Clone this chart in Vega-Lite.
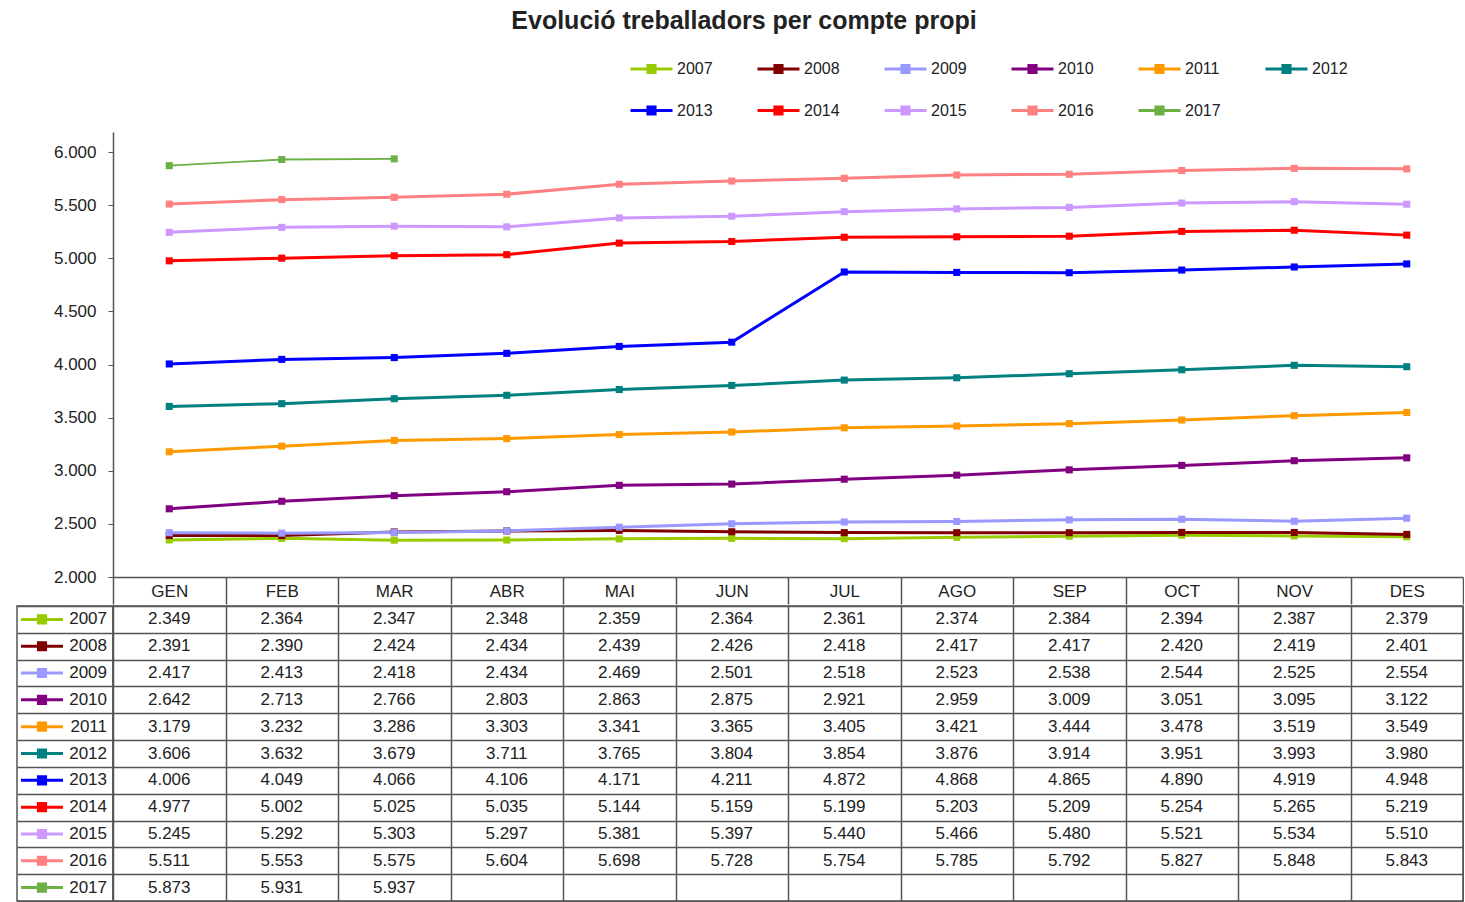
{
  "$schema": "https://vega.github.io/schema/vega-lite/v6.json",
  "background": "white",
  "padding": {"left": 14, "top": 9, "right": 0, "bottom": 0},
  "title": {"text": "Evolució treballadors per compte propi", "fontSize": 25, "font": "Liberation Sans", "fontWeight": "bold", "color": "#222", "anchor": "middle", "offset": 12, "dx": 5},
  "config": {
    "locale": {"number": {"decimal": ",", "thousands": ".", "grouping": [3], "currency": ["", " €"]}},
    "view": {"stroke": null},
    "font": "Liberation Sans",
    "axis": {"labelFont": "Liberation Sans", "labelFontSize": 17, "labelColor": "#222"}
  },
  "data": {"values": [
    {"year":"2007","month":"GEN","value":2349},{"year":"2007","month":"FEB","value":2364},{"year":"2007","month":"MAR","value":2347},{"year":"2007","month":"ABR","value":2348},{"year":"2007","month":"MAI","value":2359},{"year":"2007","month":"JUN","value":2364},{"year":"2007","month":"JUL","value":2361},{"year":"2007","month":"AGO","value":2374},{"year":"2007","month":"SEP","value":2384},{"year":"2007","month":"OCT","value":2394},{"year":"2007","month":"NOV","value":2387},{"year":"2007","month":"DES","value":2379},
    {"year":"2008","month":"GEN","value":2391},{"year":"2008","month":"FEB","value":2390},{"year":"2008","month":"MAR","value":2424},{"year":"2008","month":"ABR","value":2434},{"year":"2008","month":"MAI","value":2439},{"year":"2008","month":"JUN","value":2426},{"year":"2008","month":"JUL","value":2418},{"year":"2008","month":"AGO","value":2417},{"year":"2008","month":"SEP","value":2417},{"year":"2008","month":"OCT","value":2420},{"year":"2008","month":"NOV","value":2419},{"year":"2008","month":"DES","value":2401},
    {"year":"2009","month":"GEN","value":2417},{"year":"2009","month":"FEB","value":2413},{"year":"2009","month":"MAR","value":2418},{"year":"2009","month":"ABR","value":2434},{"year":"2009","month":"MAI","value":2469},{"year":"2009","month":"JUN","value":2501},{"year":"2009","month":"JUL","value":2518},{"year":"2009","month":"AGO","value":2523},{"year":"2009","month":"SEP","value":2538},{"year":"2009","month":"OCT","value":2544},{"year":"2009","month":"NOV","value":2525},{"year":"2009","month":"DES","value":2554},
    {"year":"2010","month":"GEN","value":2642},{"year":"2010","month":"FEB","value":2713},{"year":"2010","month":"MAR","value":2766},{"year":"2010","month":"ABR","value":2803},{"year":"2010","month":"MAI","value":2863},{"year":"2010","month":"JUN","value":2875},{"year":"2010","month":"JUL","value":2921},{"year":"2010","month":"AGO","value":2959},{"year":"2010","month":"SEP","value":3009},{"year":"2010","month":"OCT","value":3051},{"year":"2010","month":"NOV","value":3095},{"year":"2010","month":"DES","value":3122},
    {"year":"2011","month":"GEN","value":3179},{"year":"2011","month":"FEB","value":3232},{"year":"2011","month":"MAR","value":3286},{"year":"2011","month":"ABR","value":3303},{"year":"2011","month":"MAI","value":3341},{"year":"2011","month":"JUN","value":3365},{"year":"2011","month":"JUL","value":3405},{"year":"2011","month":"AGO","value":3421},{"year":"2011","month":"SEP","value":3444},{"year":"2011","month":"OCT","value":3478},{"year":"2011","month":"NOV","value":3519},{"year":"2011","month":"DES","value":3549},
    {"year":"2012","month":"GEN","value":3606},{"year":"2012","month":"FEB","value":3632},{"year":"2012","month":"MAR","value":3679},{"year":"2012","month":"ABR","value":3711},{"year":"2012","month":"MAI","value":3765},{"year":"2012","month":"JUN","value":3804},{"year":"2012","month":"JUL","value":3854},{"year":"2012","month":"AGO","value":3876},{"year":"2012","month":"SEP","value":3914},{"year":"2012","month":"OCT","value":3951},{"year":"2012","month":"NOV","value":3993},{"year":"2012","month":"DES","value":3980},
    {"year":"2013","month":"GEN","value":4006},{"year":"2013","month":"FEB","value":4049},{"year":"2013","month":"MAR","value":4066},{"year":"2013","month":"ABR","value":4106},{"year":"2013","month":"MAI","value":4171},{"year":"2013","month":"JUN","value":4211},{"year":"2013","month":"JUL","value":4872},{"year":"2013","month":"AGO","value":4868},{"year":"2013","month":"SEP","value":4865},{"year":"2013","month":"OCT","value":4890},{"year":"2013","month":"NOV","value":4919},{"year":"2013","month":"DES","value":4948},
    {"year":"2014","month":"GEN","value":4977},{"year":"2014","month":"FEB","value":5002},{"year":"2014","month":"MAR","value":5025},{"year":"2014","month":"ABR","value":5035},{"year":"2014","month":"MAI","value":5144},{"year":"2014","month":"JUN","value":5159},{"year":"2014","month":"JUL","value":5199},{"year":"2014","month":"AGO","value":5203},{"year":"2014","month":"SEP","value":5209},{"year":"2014","month":"OCT","value":5254},{"year":"2014","month":"NOV","value":5265},{"year":"2014","month":"DES","value":5219},
    {"year":"2015","month":"GEN","value":5245},{"year":"2015","month":"FEB","value":5292},{"year":"2015","month":"MAR","value":5303},{"year":"2015","month":"ABR","value":5297},{"year":"2015","month":"MAI","value":5381},{"year":"2015","month":"JUN","value":5397},{"year":"2015","month":"JUL","value":5440},{"year":"2015","month":"AGO","value":5466},{"year":"2015","month":"SEP","value":5480},{"year":"2015","month":"OCT","value":5521},{"year":"2015","month":"NOV","value":5534},{"year":"2015","month":"DES","value":5510},
    {"year":"2016","month":"GEN","value":5511},{"year":"2016","month":"FEB","value":5553},{"year":"2016","month":"MAR","value":5575},{"year":"2016","month":"ABR","value":5604},{"year":"2016","month":"MAI","value":5698},{"year":"2016","month":"JUN","value":5728},{"year":"2016","month":"JUL","value":5754},{"year":"2016","month":"AGO","value":5785},{"year":"2016","month":"SEP","value":5792},{"year":"2016","month":"OCT","value":5827},{"year":"2016","month":"NOV","value":5848},{"year":"2016","month":"DES","value":5843},
    {"year":"2017","month":"GEN","value":5873},{"year":"2017","month":"FEB","value":5931},{"year":"2017","month":"MAR","value":5937}
  ]},
  "bounds": "full",
  "spacing": 0,
  "vconcat": [
    {
      "bounds": "flush",
      "spacing": 0,
      "hconcat": [
        {"width": 96, "height": 445, "data": {"values": []}, "mark": "point"},
        {
          "width": 1350,
          "height": 445,
          "encoding": {
            "x": {"field": "month", "type": "ordinal", "sort": ["GEN","FEB","MAR","ABR","MAI","JUN","JUL","AGO","SEP","OCT","NOV","DES"], "scale": {"type": "band", "paddingInner": 0, "paddingOuter": 0},
                  "axis": {"title": null, "orient": "bottom", "tickBand": "extent", "tickSize": 27, "tickColor": "#555", "tickWidth": 1.5, "domainColor": "#555", "domainWidth": 1.5, "labelPadding": -21, "labelAngle": 0, "grid": false}},
            "y": {"field": "value", "type": "quantitative", "scale": {"domain": [2000, 6190], "nice": false, "zero": false},
                  "axis": {"title": null, "values": [2000,2500,3000,3500,4000,4500,5000,5500,6000], "format": ",d", "tickSize": 5, "labelPadding": 12, "domainColor": "#555", "domainWidth": 1.5, "tickColor": "#555", "grid": false}},
            "color": {"field": "year", "type": "nominal",
                      "scale": {"domain": ["2007","2008","2009","2010","2011","2012","2013","2014","2015","2016","2017"], "range": ["#99CC00","#800000","#9999FF","#800080","#FF9900","#008080","#0000FF","#FF0000","#CC99FF","#FF8080","#6BAF45"]},
                      "legend": {"title": null, "orient": "none", "legendX": 612, "legendY": -86, "direction": "horizontal", "columns": 6, "columnPadding": 38, "rowPadding": 9,
                                 "symbolType": "M-1,0H1M-0.17,-0.17H0.17V0.17H-0.17Z", "symbolSize": 1764, "symbolStrokeWidth": 3, "labelFontSize": 16, "labelColor": "#222", "labelOffset": 3}}
          },
          "layer": [
            {"mark": {"type": "line"}, "encoding": {"strokeWidth": {"condition": {"test": "datum.year == '2017'", "value": 1.8}, "value": 3}}},
            {"mark": {"type": "point", "shape": "square", "filled": true, "size": 50, "opacity": 1}}
          ]
        }
      ]
    },
    {
      "bounds": "flush",
      "spacing": 0,
      "hconcat": [
        {
          "width": 96,
          "height": 295,
          "view": {"stroke": "#555", "strokeWidth": 1.5},
          "transform": [{"filter": "datum.month == 'GEN'"}],
          "encoding": {
            "y": {"field": "year", "type": "nominal", "sort": ["2007","2008","2009","2010","2011","2012","2013","2014","2015","2016","2017"], "scale": {"type": "band", "paddingInner": 0, "paddingOuter": 0},
                  "axis": {"title": null, "labels": false, "ticks": false, "domain": false, "grid": true, "tickBand": "extent", "gridColor": "#555", "gridWidth": 1.5, "gridOpacity": 1}}
          },
          "layer": [
            {"mark": {"type": "point", "shape": "M-1,0H1M-0.17,-0.17H0.17V0.17H-0.17Z", "size": 1764, "filled": true, "strokeWidth": 3, "xOffset": -23, "opacity": 1},
             "encoding": {
               "color": {"field": "year", "type": "nominal", "legend": null},
               "stroke": {"field": "year", "type": "nominal", "legend": null, "scale": {"domain": ["2007","2008","2009","2010","2011","2012","2013","2014","2015","2016","2017"], "range": ["#99CC00","#800000","#9999FF","#800080","#FF9900","#008080","#0000FF","#FF0000","#CC99FF","#FF8080","#6BAF45"]}}
             }},
            {"mark": {"type": "text", "align": "right", "dx": 42, "fontSize": 17, "color": "#222"},
             "encoding": {"text": {"field": "year", "type": "nominal"}}}
          ]
        },
        {
          "width": 1350,
          "height": 295,
          "view": {"stroke": "#555", "strokeWidth": 1.5},
          "mark": {"type": "text", "fontSize": 17, "color": "#222"},
          "encoding": {
            "x": {"field": "month", "type": "ordinal", "sort": ["GEN","FEB","MAR","ABR","MAI","JUN","JUL","AGO","SEP","OCT","NOV","DES"], "scale": {"type": "band", "paddingInner": 0, "paddingOuter": 0},
                  "axis": {"title": null, "orient": "top", "labels": false, "ticks": false, "domain": false, "grid": true, "tickBand": "extent", "gridColor": "#555", "gridWidth": 1.5, "gridOpacity": 1}},
            "y": {"field": "year", "type": "nominal", "sort": ["2007","2008","2009","2010","2011","2012","2013","2014","2015","2016","2017"], "scale": {"type": "band", "paddingInner": 0, "paddingOuter": 0},
                  "axis": {"title": null, "labels": false, "ticks": false, "domain": false, "grid": true, "tickBand": "extent", "gridColor": "#555", "gridWidth": 1.5, "gridOpacity": 1}},
            "text": {"field": "value", "type": "quantitative", "format": ",d"}
          }
        }
      ]
    }
  ]
}
